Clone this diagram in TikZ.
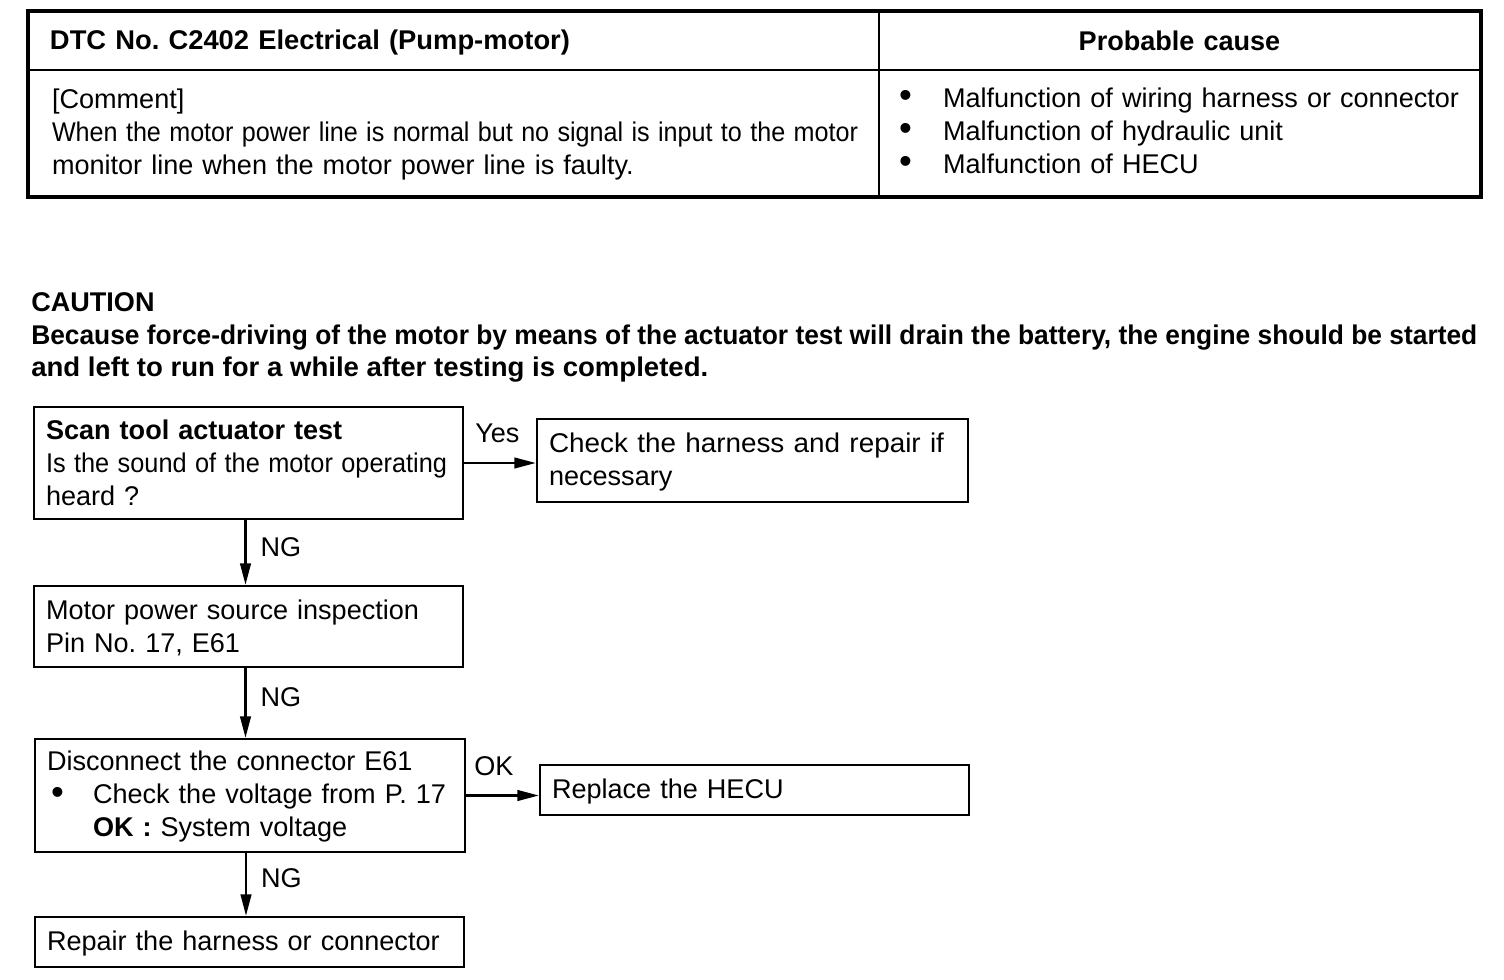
\documentclass[tikz,border=0pt]{standalone}
\usepackage{fontspec}
\setmainfont{Liberation Sans}
\usetikzlibrary{arrows.meta,calc}
\frenchspacing
\newlength\px \setlength\px{0.75pt}
\newcommand\fitw[2]{\resizebox{#1\px}{\height}{#2}}
\newcommand\fsz{\fontsize{20.3pt}{24.75pt}\selectfont}
\newcommand\st{\rule[-3\px]{0pt}{25\px}}
\newcommand\stb{\rule[-5\px]{0pt}{25\px}}
\newcommand\bigbul{\raisebox{-0.4\px}{\scalebox{1.35}{\textbullet}}}
\newcommand\bul[1]{\makebox[#1\px][l]{\bigbul}}
\begin{document}
\begin{tikzpicture}[x=0.75pt,y=-0.75pt,
  every node/.style={font=\fsz},
  cell/.style={draw, line width=1.9pt, inner ysep=0pt, align=left},
  box/.style={draw, line width=1.9pt, inner xsep=12\px, inner ysep=0pt, align=left},
  arr/.style={line width=1.6pt, -{Triangle[length=16pt,width=8pt]}},
  lab/.style={inner sep=0pt}]
\useasboundingbox (0,0) rectangle (1504,980);

% table
\node[cell, minimum width=850\px, minimum height=58\px, text width=808\px, inner xsep=21\px] (h1) at (454,41)
  {\st\bfseries\fitw{520}{DTC No. C2402 Electrical (Pump-motor)}};
\node[cell, minimum width=601\px, minimum height=58\px, text width=561\px, inner xsep=20\px, align=center] (h2) at (1179.5,41)
  {\st\bfseries Probable cause};
\node[cell, minimum width=850\px, minimum height=126\px, text width=804\px, inner xsep=23\px] (c1) at (454,133)
  {\st[Comment]\\ \fitw{806}{When the motor power line is normal but no signal is input to the motor}\\ \st monitor line when the motor power line is faulty.};
\node[cell, minimum width=601\px, minimum height=126\px, text width=581\px, inner xsep=10\px] (c2) at (1179.5,133)
  {\stb\hspace{10\px}\bul{44}Malfunction of wiring harness or connector\\ \hspace{10\px}\bul{44}Malfunction of hydraulic unit\\ \stb\hspace{10\px}\bul{44}Malfunction of HECU};
\draw[line width=2.3pt] (h1.north west) rectangle (c2.south east);

% caution
\node[lab, anchor=base west] (caut) at (31,312) {\bfseries CAUTION};
\node[lab, anchor=base west] (cl1) at (31,345) {\bfseries\fitw{1446}{Because force-driving of the motor by means of the actuator test will drain the battery, the engine should be started}};
\node[lab, anchor=base west] (cl2) at (31,377) {\bfseries\fitw{677}{and left to run for a while after testing is completed.}};

% flow
\node[box, text width=405\px, minimum height=112\px] (b1) at (248.5,463)
  {\st\textbf{Scan tool actuator test}\\ \fitw{401}{Is the sound of the motor operating}\\ \st heard ?};
\node[box, text width=407\px, minimum height=83\px] (b2) at (752.5,460.5)
  {\st\fitw{395}{Check the harness and repair if}\\ \st necessary};
\node[box, text width=405\px, minimum height=81\px] (b3) at (248.5,626.5)
  {\st Motor power source inspection\\ \st Pin No. 17, E61};
\node[box, text width=406\px, minimum height=113\px] (b4) at (250,795.5)
  {\st Disconnect the connector E61\\ \makebox[46\px][l]{\hspace{4\px}\bigbul}Check the voltage from P. 17\\ \st\hspace{46\px}\textbf{OK :} System voltage};
\node[box, text width=405\px, minimum height=50\px] (b5) at (754.5,790)
  {\st Replace the HECU};
\node[box, text width=405\px, minimum height=50\px] (b6) at (249.5,942)
  {\st Repair the harness or connector};

\draw[arr] (b1.east) -- node[lab, pos=0, anchor=south west, xshift=10\px, yshift=19\px] {Yes} (b1.east -| b2.west);
\draw[arr] (b4.east) -- node[lab, pos=0, anchor=south west, xshift=7\px, yshift=19\px] {OK} (b4.east -| b5.west);
\draw[arr] ([xshift=-3\px]b1.south) -- node[lab, midway, anchor=west, xshift=14\px, yshift=5\px] {NG} ([xshift=-3\px]b1.south |- b3.north);
\draw[arr] ([xshift=-3\px]b3.south) -- node[lab, midway, anchor=west, xshift=14\px, yshift=6\px] {NG} ([xshift=-3\px]b3.south |- b4.north);
\draw[arr] ([xshift=-4\px]b4.south) -- node[lab, midway, anchor=west, xshift=14\px, yshift=6\px] {NG} ([xshift=-4\px]b4.south |- b6.north);
\end{tikzpicture}
\end{document}
